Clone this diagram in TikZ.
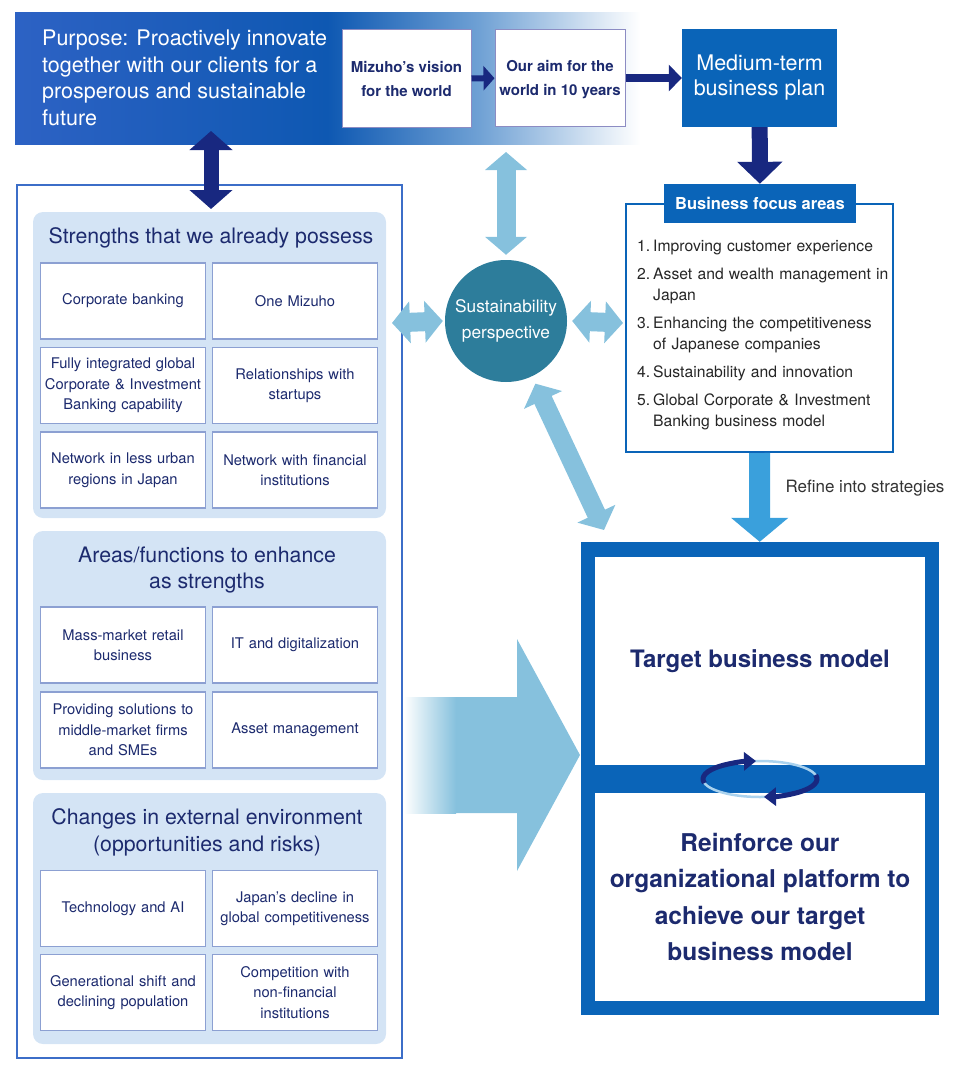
\documentclass[tikz,border=0pt]{standalone}
\usepackage{fontspec}
\setmainfont{TeX Gyre Heros}
\usetikzlibrary{arrows.meta}

\definecolor{navy}{RGB}{24,40,128}
\definecolor{ink}{RGB}{28,42,110}
\definecolor{mblue}{RGB}{10,100,184}
\definecolor{lblue}{RGB}{134,193,221}
\definecolor{rblue}{RGB}{58,160,220}
\definecolor{sustc}{RGB}{45,125,155}
\definecolor{panelc}{RGB}{212,228,245}
\definecolor{cellc}{RGB}{140,160,210}
\definecolor{framec}{RGB}{60,110,200}
\definecolor{vboxc}{RGB}{140,140,195}
\definecolor{cycc}{RGB}{170,210,238}
\definecolor{bnA}{RGB}{45,98,196}
\definecolor{bnB}{RGB}{14,88,178}
\definecolor{bnC}{RGB}{110,160,212}

\pgfdeclarehorizontalshading{banner}{100bp}{color(0bp)=(bnA); color(25bp)=(bnA); color(50bp)=(bnB); color(62bp)=(bnC); color(75bp)=(white); color(100bp)=(white)}

\newcommand{\fsz}[2]{\fontsize{#1}{#2}\selectfont}
\newcommand{\fitem}[2]{\hangindent=16pt\hangafter=1\noindent\makebox[16pt][l]{#1}#2\par}

\begin{document}
\begin{tikzpicture}[x=1pt,y=-1pt,
  cell/.style={draw=cellc, line width=1.2pt, fill=white, minimum width=165, minimum height=76,
    text width=158, align=center, inner sep=0pt, text=ink, font=\fsz{14.7}{20.5}},
  panel/.style={fill=panelc, rounded corners=10pt, inner sep=0pt},
  head/.style={text=ink, align=center, font=\fsz{21.3}{26.5}},
  vbox/.style={draw=vboxc, line width=1pt, fill=white, minimum width=129, minimum height=97,
    align=center, text=ink, font=\bfseries\fsz{15}{24}},
  navyarr/.style={navy, line width=8pt, -{Triangle[width=26pt,length=13pt]}},
  navydbl/.style={navy, line width=15pt, {Triangle[width=42pt,length=19pt]}-{Triangle[width=42pt,length=19pt]}},
  ldbl/.style={lblue, line width=19pt, {Triangle[width=41pt,length=18pt]}-{Triangle[width=41pt,length=18pt]}},
  cyca/.style={navy, line width=5pt, -{Triangle[width=18pt,length=12pt]}},
  whitebox/.style={fill=white, minimum width=330, minimum height=208, text=ink, align=center}]
\useasboundingbox (0,0) rectangle (960,1073);

% top band
\node (band) at (327.5,78.5) [shade, shading=banner, minimum width=625, minimum height=131, inner sep=0pt] {};
\node (purp) at (42,29.5) [anchor=north west, inner sep=0pt, text=white, align=left, font=\fsz{21.5}{26.7}]
  {Purpose: Proactively innovate\\together with our clients for a\\prosperous and sustainable\\future};
\node (vis) at (406.5,78.5) [vbox] {Mizuho’s vision\\for the world};
\node (aim) at (560,78) [vbox, minimum width=130, minimum height=96, text depth=0pt] {Our aim for the\\world in 10 years};
\node (mtp) at (759.5,78) [fill=mblue, minimum width=155, minimum height=98, text=white, align=center, font=\fsz{21.5}{25}] {Medium-term\\business plan};
\draw[navyarr, line width=6pt, -{Triangle[width=24pt,length=11pt]}] (vis) -- (aim);
\draw[navyarr] (aim) -- (mtp);

% business focus areas
\node (fbox) at (759.5,328) [draw=mblue, line width=2pt, minimum width=267, minimum height=248] {};
\node (ftab) at (760,203.5) [fill=mblue, minimum width=192, minimum height=39, text=white, font=\bfseries\fsz{16.5}{20}] {Business focus areas};
\draw[navyarr, line width=16pt, -{Triangle[width=44pt,length=22pt]}] (mtp) -- (ftab);
\node (flist) at (637,240) [anchor=north west, text width=262, inner sep=0pt, align=left, text=black!85, font=\fsz{15.7}{21}]
  {\setlength{\parskip}{7pt}%
   \fitem{1.}{Improving customer experience}
   \fitem{2.}{Asset and wealth management in\newline Japan}
   \fitem{3.}{Enhancing the competitiveness\newline of Japanese companies}
   \fitem{4.}{Sustainability and innovation}
   \fitem{5.}{Global Corporate \& Investment\newline Banking business model}};

% left frame and panels
\node (lf) at (209.5,621.5) [draw=framec, line width=1.5pt, minimum width=385, minimum height=873] {};
\node (pst) at (209.5,365) [panel, minimum width=353, minimum height=306] {};
\node (par) at (209.5,655.5) [panel, minimum width=353, minimum height=249] {};
\node (pch) at (209.5,918.5) [panel, minimum width=353, minimum height=251] {};

\node (hst) at (211,238) [head] {Strengths that we already possess};
\node (s1) at (123,301) [cell] {Corporate banking};
\node (s2) at (295,301) [cell] {One Mizuho};
\node (s3) at (123,385.5) [cell] {Fully integrated global\\Corporate \& Investment\\Banking capability};
\node (s4) at (295,385.5) [cell] {Relationships with\\startups};
\node (s5) at (123,470) [cell] {Network in less urban\\regions in Japan};
\node (s6) at (295,470) [cell] {Network with financial\\institutions};

\node (har) at (207,570) [head] {Areas/functions to enhance\\as strengths};
\node (a1) at (123,645) [cell] {Mass-market retail\\business};
\node (a2) at (295,645) [cell] {IT and digitalization};
\node (a3) at (123,730) [cell] {Providing solutions to\\middle-market firms\\and SMEs};
\node (a4) at (295,730) [cell] {Asset management};

\node (hch) at (207,832.5) [head] {Changes in external environment\\(opportunities and risks)};
\node (c1) at (123,908.5) [cell] {Technology and AI};
\node (c2) at (295,908.5) [cell] {Japan’s decline in\\global competitiveness};
\node (c3) at (123,992.5) [cell] {Generational shift and\\declining population};
\node (c4) at (295,992.5) [cell] {Competition with\\non-financial\\institutions};

% purpose <-> strengths
\coordinate (pa) at (211,131);
\coordinate (pb) at (211,209);
\draw[navydbl] (pa) -- (pb);

% target business model
\node (tgt) at (760,778.5) [fill=mblue, minimum width=358, minimum height=473] {};
\node (tbm) at (760,661) [whitebox, font=\bfseries\fsz{24}{30}] {Target business model};
\node (rop) at (760,897) [whitebox, font=\bfseries\fsz{24.5}{36.5}] {Reinforce our\\organizational platform to\\achieve our target\\business model};
\coordinate (cc) at (760,779);
\draw[cycc, line width=2.5pt] (cc) ellipse [x radius=57, y radius=18];
\draw[cyca] (cc) ++(167:57 and 18) arc[start angle=167, end angle=266, x radius=57, y radius=18];
\draw[cyca] (cc) ++(-13:57 and 18) arc[start angle=-13, end angle=86, x radius=57, y radius=18];

\draw[rblue, line width=21pt, -{Triangle[width=56pt,length=24pt]}] (fbox) -- (tgt);
\node (refl) at (782,488) [anchor=west, text=black!80, font=\fsz{17}{20}] {Refine into strategies};

% big arrow
\fill[lblue] (405,697) -- (517,697) -- (517,639) -- (580,755) -- (517,871) -- (517,813) -- (405,813) -- cycle;
\shade[left color=white, right color=lblue] (404,697) rectangle (456,813);

% sustainability perspective
\node (circ) at (506,321) [circle, fill=sustc, minimum size=122, inner sep=0pt, text=white, align=center, font=\fsz{17.3}{25.5}] {Sustainability\\perspective};
\coordinate (su) at (506,152);
\coordinate (sl) at (392,323);
\coordinate (sr) at (623,323);
\coordinate (sd) at (604,530);
\draw[ldbl] (su) -- ([yshift=5pt]circ.north);
\draw[ldbl] (sl) -- ([xshift=-2pt]circ.west);
\draw[ldbl] ([xshift=5pt]circ.east) -- (sr);
\draw[ldbl, shorten <=8pt] (circ) -- (sd);
\end{tikzpicture}
\end{document}
